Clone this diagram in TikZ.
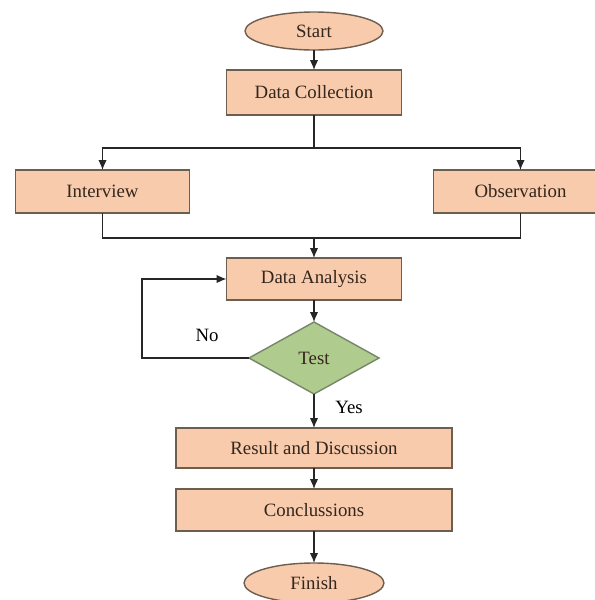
\documentclass[tikz,border=0pt]{standalone}
\usepackage{fontspec}
\setmainfont{Liberation Serif}
\usetikzlibrary{positioning,arrows,arrows.meta,shapes,calc}
\definecolor{peach}{HTML}{F8CBAD}
\definecolor{peachline}{HTML}{6E5E50}
\definecolor{leaf}{HTML}{AFCB8D}
\definecolor{leafline}{HTML}{76866A}
\definecolor{inktext}{HTML}{33261C}
\tikzstyle{stepbox}=[rectangle, draw=peachline, fill=peach, line width=0.8pt,
 inner sep=2pt, outer sep=0pt, text centered, text=inktext]
\tikzstyle{termbox}=[ellipse, draw=peachline, fill=peach, line width=0.8pt,
 minimum width=2.76cm, minimum height=0.76cm, inner sep=1pt, outer sep=0pt, text=inktext]
\tikzstyle{testbox}=[diamond, aspect=1.8, draw=leafline, fill=leaf, line width=0.8pt,
 minimum width=2.6cm, minimum height=1.44cm, inner sep=1pt, outer sep=0pt, text=inktext]
\tikzstyle{line}=[-, line width=0.7pt, black!85]
\tikzstyle{dline}=[-{Latex[length=2mm,width=1.7mm]}, line width=0.7pt, black!85]
\begin{document}
\begin{tikzpicture}[node distance=0mm, font=\fontsize{10.7}{13}\selectfont]
\useasboundingbox (0,0) rectangle (11.88,-12);

	\node (start) [termbox] at (6.28,-0.62) {Start};
	\node (dcol) [stepbox, minimum width=3.5cm, minimum height=0.9cm, below=4mm of start] {Data Collection};
	\node (intv) [stepbox, minimum width=3.48cm, minimum height=0.86cm, below left=11mm and 7.4mm of dcol] {Interview};
	\node (obs) [stepbox, minimum width=3.48cm, minimum height=0.86cm, below right=11mm and 6.4mm of dcol] {Observation};
	\node (dana) [stepbox, minimum width=3.5cm, minimum height=0.84cm, below=28.6mm of dcol] {Data Analysis};
	\node (test) [testbox, below=4.4mm of dana] {Test};
	\node (res) [stepbox, minimum width=5.52cm, minimum height=0.8cm, below=6.8mm of test] {Result and Discussion};
	\node (concl) [stepbox, minimum width=5.52cm, minimum height=0.84cm, below=4.2mm of res] {Conclussions};
	\node (fin) [termbox, minimum width=2.8cm, minimum height=0.8cm, below=6.4mm of concl] {Finish};
%  labels
	\node (nolbl) at ($(test.west)+(-0.84,0.46)$) {No};
	\node (yeslbl) at ($(test.south)+(0.7,-0.26)$) {Yes};
%%%
   \draw[dline] (start.south) to (dcol.north);
   \draw[line] (dcol.south) -- ++(0,-0.66) coordinate (split);
   \draw[dline] (split) -| (intv.north);
   \draw[dline] (split) -| (obs.north);

   \coordinate[above=4mm of dana.north] (merge);
   \draw[line] (intv.south) |- (merge) -| (obs.south);
   \draw[dline] (merge) to (dana.north);

   \draw[dline] (dana.south) to (test.north);
   \draw[dline] (test.west) -- ++(-2.14,0) |- (dana.west);
   \draw[dline] (test.south) to (res.north);
   \draw[dline] (res.south) to (concl.north);
   \draw[dline] (concl.south) to (fin.north);

\end{tikzpicture}
\end{document}
